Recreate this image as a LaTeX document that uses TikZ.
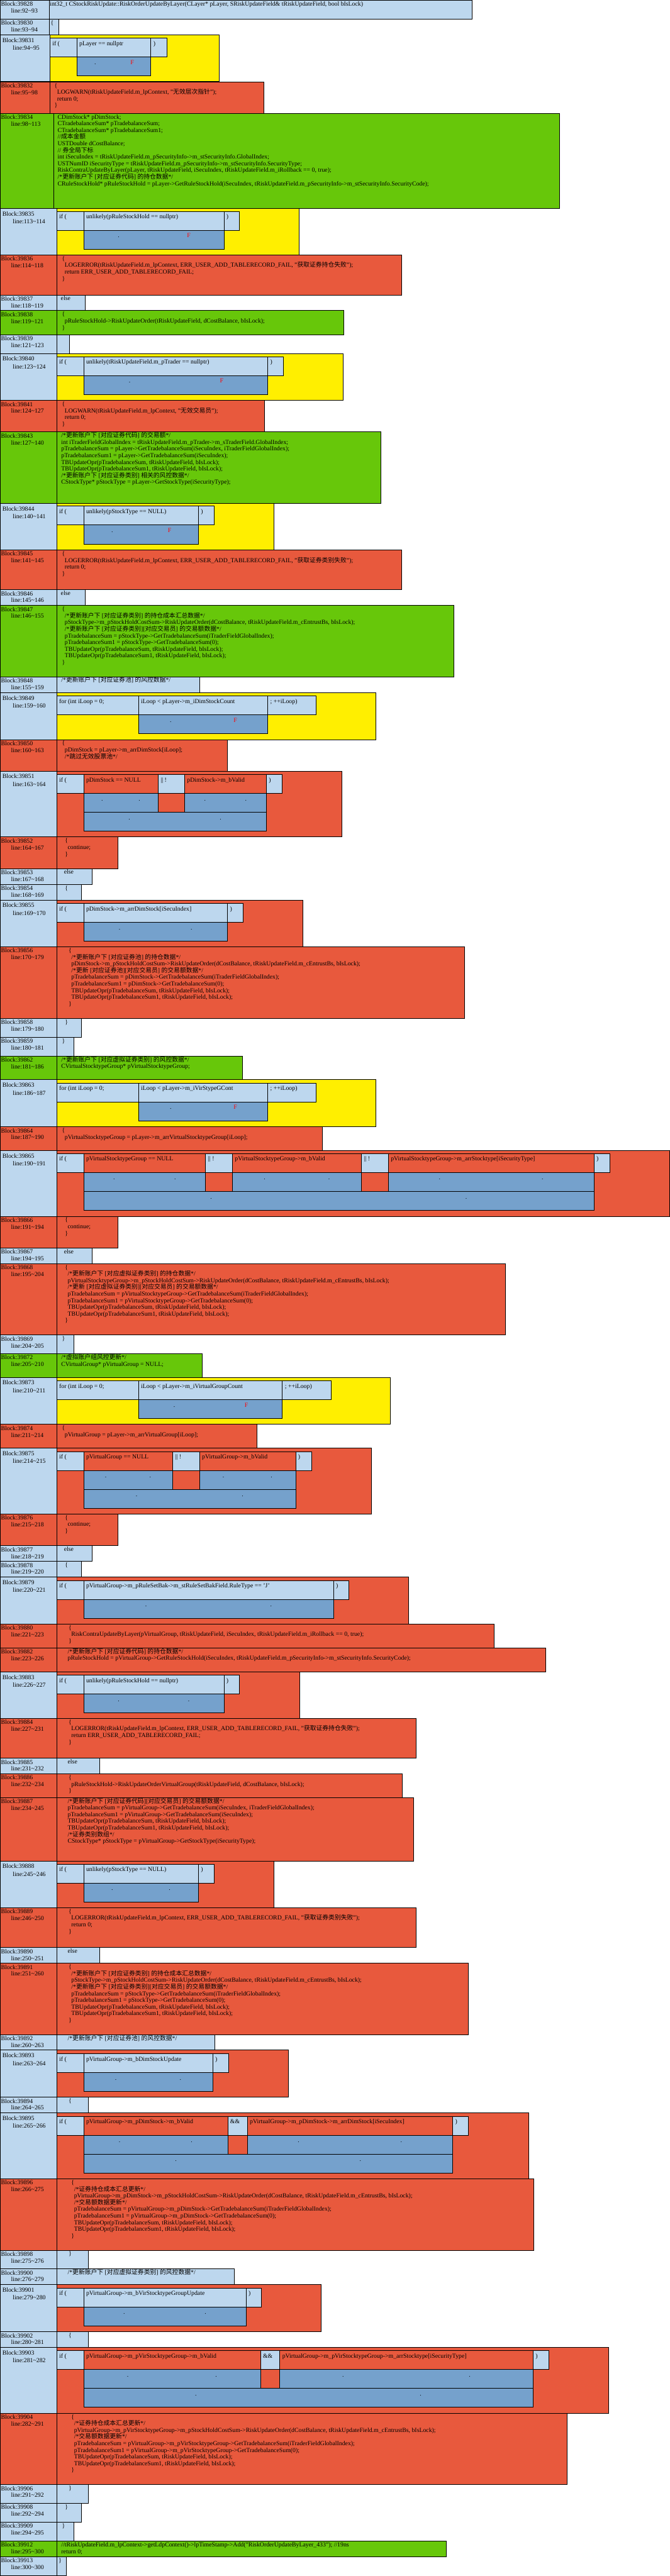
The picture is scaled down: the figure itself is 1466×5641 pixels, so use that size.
\documentclass[tikz,border=0pt]{standalone}
\usepackage{fontspec}
\setmainfont{Liberation Serif}
\newfontfamily\zhfont{Noto Sans CJK SC}
\newcommand{\zh}[1]{{\zhfont #1}}
\definecolor{blkblue}{HTML}{BDD7EE}
\definecolor{blkyellow}{HTML}{FFEF00}
\definecolor{blkred}{HTML}{E8593D}
\definecolor{blkgreen}{HTML}{67C70A}
\definecolor{blkdark}{HTML}{75A1CC}
\tikzset{
  boxline/.style={draw=black, line width=0.8pt},
  codetxt/.style={anchor=base west, inner sep=0pt, font=\fontsize{13.5}{14.6}\selectfont},
  marktxt/.style={anchor=base, inner sep=0pt, font=\fontsize{13.5}{14.6}\selectfont},
}
\begin{document}
\begin{tikzpicture}[x=1pt, y=-1pt]
        % 1. VARIABLES / MACROS
        \def\codeln#1{\hbox{#1}}
        \def\codein#1{\hbox{\hskip6pt #1}}
        \def\Fmark{\textcolor{red}{F}}
        % block label column: id, top, bottom, width, colour, lines
        \def\blklabel#1#2#3#4#5#6{%
          \filldraw[fill=#5, boxline] (0,#2) rectangle (#4,#3);
          \node[codetxt] (L#1a) at (2,#2+13) {Block:#1};
          \node[codetxt] (L#1b) at (24,#2+28) {line:#6};}
        % label column of an if / for block: id, top, bottom, width, lines
        \def\blkiflabel#1#2#3#4#5{%
          \filldraw[fill=blkblue, boxline] (0,#2) rectangle (#4,#3);
          \node[codetxt] (L#1a) at (5,#2+16.5) {Block:#1};
          \node[codetxt] (L#1b) at (28,#2+33.5) {line:#5};}
        % code body: id, top, bottom, left, right, colour, text x, lines
        \def\blkbody#1#2#3#4#5#6#7#8{%
          \filldraw[fill=#6, boxline] (#4,#2) rectangle (#5,#3);
          \node[codetxt] (C#1) at (#7,#2+12.5) {\vtop{\lineskiplimit=-50pt\relax #8}};}
        \def\blkframe#1#2#3#4#5{\filldraw[fill=#5, boxline] (#3,#1) rectangle (#4,#2);}
        % one cell of a condition row: name, x1, x2, top, colour, text
        \def\blkcell#1#2#3#4#5#6{%
          \filldraw[fill=#5, boxline] (#2,#4) rectangle (#3,#4+41.3);
          \node[codetxt] (#1) at (#2+5.5,#4+16.5) {#6};}
        % dark result box: name, x1, x2, top, second mark
        \def\blkdark#1#2#3#4#5{%
          \filldraw[fill=blkdark, boxline] (#2,#4) rectangle (#3,#4+41.5);
          \node[marktxt] (#1a) at ({#2+0.25*(#3-#2)},#4+16.5) {.};
          \node[marktxt] (#1b) at ({#2+0.75*(#3-#2)},#4+16.5) {#5};}
        % simple if row: id, row top, cond right, close right, condition, mark
        \def\blkif#1#2#3#4#5#6{%
          \blkcell{I#1a}{124}{183}{#2}{blkblue}{if (}%
          \blkcell{I#1b}{183}{#3}{#2}{blkblue}{#5}%
          \blkcell{I#1c}{#3}{#4}{#2}{blkblue}{)}%
          \blkdark{D#1}{183}{#3}{#2+41.3}{#6}}
        % for row: id, row top, x2, x3, x4, init, cond, step
        \def\blkfor#1#2#3#4#5#6#7#8{%
          \blkcell{I#1a}{124}{#3}{#2}{blkblue}{#6}%
          \blkcell{I#1b}{#3}{#4}{#2}{blkblue}{#7}%
          \blkcell{I#1c}{#4}{#5}{#2}{blkblue}{#8}%
          \blkdark{D#1}{#3}{#4}{#2+41.3}{\Fmark}}

        \useasboundingbox (0,0) rectangle (1466,5641);

        % ==========================================
        % 2. FUNCTION HEAD
        % ==========================================
        \blklabel{39828}{0}{41.7}{107.5}{blkblue}{92\textasciitilde93}
        \blkbody{39828}{0}{41.7}{107.5}{1033}{blkblue}{109}{\codeln{int32\_t CStockRiskUpdate::RiskOrderUpdateByLayer(CLayer* pLayer, SRiskUpdateField\& tRiskUpdateField, bool bIsLock)}}
        \blklabel{39830}{41.7}{76}{107.5}{blkblue}{93\textasciitilde94}
        \blkbody{39830}{41.7}{76}{107.5}{129}{blkblue}{111}{\codeln{\{}}

        \blkiflabel{39831}{76}{178}{109}{94\textasciitilde95}
        \blkframe{76}{178}{109}{479}{blkyellow}
        \blkcell{I39831a}{109}{168}{83}{blkblue}{if (}
        \blkcell{I39831b}{168}{330}{83}{blkblue}{pLayer == nullptr}
        \blkcell{I39831c}{330}{365}{83}{blkblue}{)}
        \blkdark{D39831}{168}{330}{124.3}{\Fmark}

        \blklabel{39832}{179}{248}{109}{blkred}{95\textasciitilde98}
        \blkbody{39832}{179}{248}{109}{578}{blkred}{119}{\codeln{\{}\codein{LOGWARN(tRiskUpdateField.m\_lpContext, "\zh{无效层次指针}");}\codein{return 0;}\codeln{\}}}

        \blklabel{39834}{248}{456.7}{117}{blkgreen}{98\textasciitilde113}
        \blkbody{39834}{248}{456.7}{117}{1225}{blkgreen}{126}{%
          \codeln{CDimStock* pDimStock;}
          \codeln{CTradebalanceSum* pTradebalanceSum;}
          \codeln{CTradebalanceSum* pTradebalanceSum1;}
          \codeln{//\zh{成本金额}}
          \codeln{USTDouble dCostBalance;}
          \codeln{// \zh{券全局下标}}
          \codeln{int iSecuIndex = tRiskUpdateField.m\_pSecurityInfo->m\_stSecurityInfo.GlobalIndex;}
          \codeln{USTNumID iSecurityType = tRiskUpdateField.m\_pSecurityInfo->m\_stSecurityInfo.SecurityType;}
          \codeln{RiskContraUpdateByLayer(pLayer, tRiskUpdateField, iSecuIndex, tRiskUpdateField.m\_iRollback == 0, true);}
          \codeln{/*\zh{更新账户下} [\zh{对应证券代码}] \zh{的持仓数据}*/}
          \codeln{CRuleStockHold* pRuleStockHold = pLayer->GetRuleStockHold(iSecuIndex, tRiskUpdateField.m\_pSecurityInfo->m\_stSecurityInfo.SecurityCode);}}

        % ==========================================
        % 3. STOCK HOLD AND TRADER
        % ==========================================
        \blkiflabel{39835}{456.7}{558}{124}{113\textasciitilde114}
        \blkframe{456.7}{558}{124}{654}{blkyellow}
        \blkif{39835}{462.7}{490}{524}{unlikely(pRuleStockHold == nullptr)}{\Fmark}

        \blklabel{39836}{558}{645.7}{124}{blkred}{114\textasciitilde118}
        \blkbody{39836}{558}{645.7}{124}{879}{blkred}{135.5}{\codeln{\{}\codein{LOGERROR(tRiskUpdateField.m\_lpContext, ERR\_USER\_ADD\_TABLERECORD\_FAIL, "\zh{获取证券持仓失败}");}\codein{return ERR\_USER\_ADD\_TABLERECORD\_FAIL;}\codeln{\}}}
        \blklabel{39837}{645.7}{680}{124}{blkblue}{118\textasciitilde119}
        \blkbody{39837}{645.7}{680}{124}{186}{blkblue}{133}{\codeln{else}}
        \blklabel{39838}{680}{732.7}{124}{blkgreen}{119\textasciitilde121}
        \blkbody{39838}{680}{732.7}{124}{753}{blkgreen}{135.5}{\codeln{\{}\codein{pRuleStockHold->RiskUpdateOrder(tRiskUpdateField, dCostBalance, bIsLock);}\codeln{\}}}
        \blklabel{39839}{732.7}{773.7}{124}{blkblue}{121\textasciitilde123}
        \blkbody{39839}{732.7}{773.7}{124}{151.5}{blkblue}{133}{}

        \blkiflabel{39840}{773.7}{876.7}{124}{123\textasciitilde124}
        \blkframe{773.7}{876.7}{124}{751}{blkyellow}
        \blkif{39840}{780.7}{586}{620}{unlikely(tRiskUpdateField.m\_pTrader == nullptr)}{\Fmark}

        \blklabel{39841}{876.7}{945.7}{124}{blkred}{124\textasciitilde127}
        \blkbody{39841}{876.7}{945.7}{124}{579}{blkred}{135.5}{\codeln{\{}\codein{LOGWARN(tRiskUpdateField.m\_lpContext, "\zh{无效交易员}");}\codein{return 0;}\codeln{\}}}

        \blklabel{39843}{945.7}{1102.3}{124}{blkgreen}{127\textasciitilde140}
        \blkbody{39843}{945.7}{1102.3}{124}{834}{blkgreen}{134}{%
          \codeln{/*\zh{更新账户下} [\zh{对应证券代码}] \zh{的交易额}*/}
          \codeln{int iTraderFieldGlobalIndex = tRiskUpdateField.m\_pTrader->m\_sTraderField.GlobalIndex;}
          \codeln{pTradebalanceSum = pLayer->GetTradebalanceSum(iSecuIndex, iTraderFieldGlobalIndex);}
          \codeln{pTradebalanceSum1 = pLayer->GetTradebalanceSum(iSecuIndex);}
          \codeln{TBUpdateOpr(pTradebalanceSum, tRiskUpdateField, bIsLock);}
          \codeln{TBUpdateOpr(pTradebalanceSum1, tRiskUpdateField, bIsLock);}
          \codeln{/*\zh{更新账户下} [\zh{对应证券类别}] \zh{相关的风控数据}*/}
          \codeln{CStockType* pStockType = pLayer->GetStockType(iSecurityType);}}

        \blkiflabel{39844}{1102.3}{1204.3}{124}{140\textasciitilde141}
        \blkframe{1102.3}{1204.3}{124}{599}{blkyellow}
        \blkif{39844}{1108.3}{434}{468}{unlikely(pStockType == NULL)}{\Fmark}

        \blklabel{39845}{1204.3}{1291.3}{124}{blkred}{141\textasciitilde145}
        \blkbody{39845}{1204.3}{1291.3}{124}{879}{blkred}{135.5}{\codeln{\{}\codein{LOGERROR(tRiskUpdateField.m\_lpContext, ERR\_USER\_ADD\_TABLERECORD\_FAIL, "\zh{获取证券类别失败}");}\codein{return 0;}\codeln{\}}}
        \blklabel{39846}{1291.3}{1325.7}{124}{blkblue}{145\textasciitilde146}
        \blkbody{39846}{1291.3}{1325.7}{124}{186}{blkblue}{133}{\codeln{else}}
        \blklabel{39847}{1325.7}{1481.7}{124}{blkgreen}{146\textasciitilde155}
        \blkbody{39847}{1325.7}{1481.7}{124}{994}{blkgreen}{135.5}{%
          \codeln{\{}
          \codein{/*\zh{更新账户下} [\zh{对应证券类别}] \zh{的持仓成本汇总数据}*/}
          \codein{pStockType->m\_pStockHoldCostSum->RiskUpdateOrder(dCostBalance, tRiskUpdateField.m\_cEntrustBs, bIsLock);}
          \codein{/*\zh{更新账户下} [\zh{对应证券类别}][\zh{对应交易员}] \zh{的交易额数据}*/}
          \codein{pTradebalanceSum = pStockType->GetTradebalanceSum(iTraderFieldGlobalIndex);}
          \codein{pTradebalanceSum1 = pStockType->GetTradebalanceSum(0);}
          \codein{TBUpdateOpr(pTradebalanceSum, tRiskUpdateField, bIsLock);}
          \codein{TBUpdateOpr(pTradebalanceSum1, tRiskUpdateField, bIsLock);}
          \codeln{\}}}

        % ==========================================
        % 4. STOCK POOL LOOP
        % ==========================================
        \blklabel{39848}{1481.7}{1516.7}{124}{blkblue}{155\textasciitilde159}
        \blkbody{39848}{1481.7}{1516.7}{124}{437.5}{blkblue}{134}{\codeln{/*\zh{更新账户下} [\zh{对应证券池}] \zh{的风控数据}*/}}

        \blkiflabel{39849}{1516.7}{1619.3}{124}{159\textasciitilde160}
        \blkframe{1516.7}{1619.3}{124}{823}{blkyellow}
        \blkfor{39849}{1523.3}{303}{586}{692}{for (int iLoop = 0;}{iLoop < pLayer->m\_iDimStockCount}{; ++iLoop)}

        \blklabel{39850}{1619.3}{1688.3}{124}{blkred}{160\textasciitilde163}
        \blkbody{39850}{1619.3}{1688.3}{124}{498}{blkred}{135.5}{\codeln{\{}\codein{pDimStock = pLayer->m\_arrDimStock[iLoop];}\codein{/*\zh{跳过无效股票池}*/}}

        \blkiflabel{39851}{1688.3}{1832.7}{124}{163\textasciitilde164}
        \blkframe{1688.3}{1832.7}{124}{748}{blkred}
        \blkcell{I39851a}{124}{183}{1695.7}{blkblue}{if (}
        \blkcell{I39851b}{183}{346}{1695.7}{blkred}{pDimStock == NULL}
        \blkcell{I39851c}{346}{404}{1695.7}{blkblue}{|| !}
        \blkcell{I39851d}{404}{583}{1695.7}{blkred}{pDimStock->m\_bValid}
        \blkcell{I39851e}{583}{617}{1695.7}{blkblue}{)}
        \blkdark{D39851a}{183}{346}{1737}{.}
        \blkdark{D39851b}{404}{583}{1737}{.}
        \blkdark{D39851c}{183}{583}{1778.5}{.}

        \blklabel{39852}{1832.7}{1901.7}{124}{blkred}{164\textasciitilde167}
        \blkbody{39852}{1832.7}{1901.7}{124}{258}{blkred}{142}{\codeln{\{}\codein{continue;}\codeln{\}}}
        \blklabel{39853}{1901.7}{1936.7}{124}{blkblue}{167\textasciitilde168}
        \blkbody{39853}{1901.7}{1936.7}{124}{202}{blkblue}{140}{\codeln{else}}
        \blklabel{39854}{1936.7}{1970.7}{124}{blkblue}{168\textasciitilde169}
        \blkbody{39854}{1936.7}{1970.7}{124}{177.6}{blkblue}{142}{\codeln{\{}}

        \blkiflabel{39855}{1970.7}{2073.3}{124}{169\textasciitilde170}
        \blkframe{1970.7}{2073.3}{124}{663}{blkred}
        \blkif{39855}{1977.7}{498}{532}{pDimStock->m\_arrDimStock[iSecuIndex]}{.}

        \blklabel{39856}{2073.3}{2230}{124}{blkred}{170\textasciitilde179}
        \blkbody{39856}{2073.3}{2230}{124}{1017}{blkred}{150}{%
          \codeln{\{}
          \codein{/*\zh{更新账户下} [\zh{对应证券池}] \zh{的持仓数据}*/}
          \codein{pDimStock->m\_pStockHoldCostSum->RiskUpdateOrder(dCostBalance, tRiskUpdateField.m\_cEntrustBs, bIsLock);}
          \codein{/*\zh{更新} [\zh{对应证券池}][\zh{对应交易员}] \zh{的交易额数据}*/}
          \codein{pTradebalanceSum = pDimStock->GetTradebalanceSum(iTraderFieldGlobalIndex);}
          \codein{pTradebalanceSum1 = pDimStock->GetTradebalanceSum(0);}
          \codein{TBUpdateOpr(pTradebalanceSum, tRiskUpdateField, bIsLock);}
          \codein{TBUpdateOpr(pTradebalanceSum1, tRiskUpdateField, bIsLock);}
          \codeln{\}}}
        \blklabel{39858}{2230}{2271}{124}{blkblue}{179\textasciitilde180}
        \blkbody{39858}{2230}{2271}{124}{177.6}{blkblue}{142}{\codeln{\}}}
        \blklabel{39859}{2271}{2312.7}{124}{blkblue}{180\textasciitilde181}
        \blkbody{39859}{2271}{2312.7}{124}{161}{blkblue}{135.5}{\codeln{\}}}

        % ==========================================
        % 5. VIRTUAL STOCK TYPE LOOP
        % ==========================================
        \blklabel{39862}{2312.7}{2364.3}{124}{blkgreen}{181\textasciitilde186}
        \blkbody{39862}{2312.7}{2364.3}{124}{530}{blkgreen}{134}{\codeln{/*\zh{更新账户下} [\zh{对应虚拟证券类别}] \zh{的风控数据}*/}\codeln{CVirtualStocktypeGroup* pVirtualStocktypeGroup;}}

        \blkiflabel{39863}{2364.3}{2467.3}{124}{186\textasciitilde187}
        \blkframe{2364.3}{2467.3}{124}{823}{blkyellow}
        \blkfor{39863}{2371.3}{303}{586}{692}{for (int iLoop = 0;}{iLoop < pLayer->m\_iVirStypeGCont}{; ++iLoop)}

        \blklabel{39864}{2467.3}{2519}{124}{blkred}{187\textasciitilde190}
        \blkbody{39864}{2467.3}{2519}{124}{706}{blkred}{135.5}{\codeln{\{}\codein{pVirtualStocktypeGroup = pLayer->m\_arrVirtualStocktypeGroup[iLoop];}}

        \blkiflabel{39865}{2519}{2663.3}{124}{190\textasciitilde191}
        \blkframe{2519}{2663.3}{124}{1466}{blkred}
        \blkcell{I39865a}{124}{183}{2525.7}{blkblue}{if (}
        \blkcell{I39865b}{183}{450}{2525.7}{blkred}{pVirtualStocktypeGroup == NULL}
        \blkcell{I39865c}{450}{508.6}{2525.7}{blkblue}{|| !}
        \blkcell{I39865d}{508.6}{791}{2525.7}{blkred}{pVirtualStocktypeGroup->m\_bValid}
        \blkcell{I39865e}{791}{850}{2525.7}{blkblue}{|| !}
        \blkcell{I39865f}{850}{1300}{2525.7}{blkred}{pVirtualStocktypeGroup->m\_arrStocktype[iSecurityType]}
        \blkcell{I39865g}{1300}{1335}{2525.7}{blkblue}{)}
        \blkdark{D39865a}{183}{450}{2567}{.}
        \blkdark{D39865b}{508.6}{791}{2567}{.}
        \blkdark{D39865c}{850}{1300}{2567}{.}
        \blkdark{D39865d}{183}{1300}{2608.5}{.}

        \blklabel{39866}{2663.3}{2732.7}{124}{blkred}{191\textasciitilde194}
        \blkbody{39866}{2663.3}{2732.7}{124}{258}{blkred}{142}{\codeln{\{}\codein{continue;}\codeln{\}}}
        \blklabel{39867}{2732.7}{2766.7}{124}{blkblue}{194\textasciitilde195}
        \blkbody{39867}{2732.7}{2766.7}{124}{202}{blkblue}{140}{\codeln{else}}
        \blklabel{39868}{2766.7}{2923.3}{124}{blkred}{195\textasciitilde204}
        \blkbody{39868}{2766.7}{2923.3}{124}{1106}{blkred}{142}{%
          \codeln{\{}
          \codein{/*\zh{更新账户下} [\zh{对应虚拟证券类别}] \zh{的持仓数据}*/}
          \codein{pVirtualStocktypeGroup->m\_pStockHoldCostSum->RiskUpdateOrder(dCostBalance, tRiskUpdateField.m\_cEntrustBs, bIsLock);}
          \codein{/*\zh{更新} [\zh{对应虚拟证券类别}][\zh{对应交易员}] \zh{的交易额数据}*/}
          \codein{pTradebalanceSum = pVirtualStocktypeGroup->GetTradebalanceSum(iTraderFieldGlobalIndex);}
          \codein{pTradebalanceSum1 = pVirtualStocktypeGroup->GetTradebalanceSum(0);}
          \codein{TBUpdateOpr(pTradebalanceSum, tRiskUpdateField, bIsLock);}
          \codein{TBUpdateOpr(pTradebalanceSum1, tRiskUpdateField, bIsLock);}
          \codeln{\}}}
        \blklabel{39869}{2923.3}{2964.3}{124}{blkblue}{204\textasciitilde205}
        \blkbody{39869}{2923.3}{2964.3}{124}{161}{blkblue}{135.5}{\codeln{\}}}

        % ==========================================
        % 6. VIRTUAL GROUP LOOP
        % ==========================================
        \blklabel{39872}{2964.3}{3016}{124}{blkgreen}{205\textasciitilde210}
        \blkbody{39872}{2964.3}{3016}{124}{442}{blkgreen}{134}{\codeln{/*\zh{虚拟账户组风控更新}*/}\codeln{CVirtualGroup* pVirtualGroup = NULL;}}

        \blkiflabel{39873}{3016}{3119}{124}{210\textasciitilde211}
        \blkframe{3016}{3119}{124}{854.5}{blkyellow}
        \blkfor{39873}{3023.3}{303}{618}{724.5}{for (int iLoop = 0;}{iLoop < pLayer->m\_iVirtualGroupCount}{; ++iLoop)}

        \blklabel{39874}{3119}{3171}{124}{blkred}{211\textasciitilde214}
        \blkbody{39874}{3119}{3171}{124}{562}{blkred}{135.5}{\codeln{\{}\codein{pVirtualGroup = pLayer->m\_arrVirtualGroup[iLoop];}}

        \blkiflabel{39875}{3171}{3315}{124}{214\textasciitilde215}
        \blkframe{3171}{3315}{124}{812.5}{blkred}
        \blkcell{I39875a}{124}{183}{3178.3}{blkblue}{if (}
        \blkcell{I39875b}{183}{377.7}{3178.3}{blkred}{pVirtualGroup == NULL}
        \blkcell{I39875c}{377.7}{436.6}{3178.3}{blkblue}{|| !}
        \blkcell{I39875d}{436.6}{647}{3178.3}{blkred}{pVirtualGroup->m\_bValid}
        \blkcell{I39875e}{647}{681.6}{3178.3}{blkblue}{)}
        \blkdark{D39875a}{183}{377.7}{3219.6}{.}
        \blkdark{D39875b}{436.6}{647}{3219.6}{.}
        \blkdark{D39875c}{183}{647}{3261}{.}

        \blklabel{39876}{3315}{3384.7}{124}{blkred}{215\textasciitilde218}
        \blkbody{39876}{3315}{3384.7}{124}{258}{blkred}{142}{\codeln{\{}\codein{continue;}\codeln{\}}}
        \blklabel{39877}{3384.7}{3419}{124}{blkblue}{218\textasciitilde219}
        \blkbody{39877}{3384.7}{3419}{124}{202}{blkblue}{140}{\codeln{else}}
        \blklabel{39878}{3419}{3453.3}{124}{blkblue}{219\textasciitilde220}
        \blkbody{39878}{3419}{3453.3}{124}{177.6}{blkblue}{142}{\codeln{\{}}

        \blkiflabel{39879}{3453.3}{3556}{124}{220\textasciitilde221}
        \blkframe{3453.3}{3556}{124}{894.7}{blkred}
        \blkif{39879}{3460.7}{730}{763.8}{pVirtualGroup->m\_pRuleSetBak->m\_stRuleSetBakField.RuleType == 'J'}{.}

        \blklabel{39880}{3556}{3608.3}{124}{blkred}{221\textasciitilde223}
        \blkbody{39880}{3556}{3608.3}{124}{1081.7}{blkred}{150}{\codeln{\{}\codein{RiskContraUpdateByLayer(pVirtualGroup, tRiskUpdateField, iSecuIndex, tRiskUpdateField.m\_iRollback == 0, true);}\codeln{\}}}
        \blklabel{39882}{3608.3}{3660.7}{124}{blkred}{223\textasciitilde226}
        \blkbody{39882}{3608.3}{3660.7}{124}{1194}{blkred}{148}{\codeln{/*\zh{更新账户下} [\zh{对应证券代码}] \zh{的持仓数据}*/}\codeln{pRuleStockHold = pVirtualGroup->GetRuleStockHold(iSecuIndex, tRiskUpdateField.m\_pSecurityInfo->m\_stSecurityInfo.SecurityCode);}}

        \blkiflabel{39883}{3660.7}{3762.7}{124}{226\textasciitilde227}
        \blkframe{3660.7}{3762.7}{124}{655.4}{blkred}
        \blkif{39883}{3667.7}{490}{524}{unlikely(pRuleStockHold == nullptr)}{.}

        \blklabel{39884}{3762.7}{3850}{124}{blkred}{227\textasciitilde231}
        \blkbody{39884}{3762.7}{3850}{124}{910.6}{blkred}{150}{\codeln{\{}\codein{LOGERROR(tRiskUpdateField.m\_lpContext, ERR\_USER\_ADD\_TABLERECORD\_FAIL, "\zh{获取证券持仓失败}");}\codein{return ERR\_USER\_ADD\_TABLERECORD\_FAIL;}\codeln{\}}}
        \blklabel{39885}{3850}{3884.3}{124}{blkblue}{231\textasciitilde232}
        \blkbody{39885}{3850}{3884.3}{124}{217.8}{blkblue}{148}{\codeln{else}}
        \blklabel{39886}{3884.3}{3936}{124}{blkred}{232\textasciitilde234}
        \blkbody{39886}{3884.3}{3936}{124}{880.7}{blkred}{150}{\codeln{\{}\codein{pRuleStockHold->RiskUpdateOrderVirtualGroup(tRiskUpdateField, dCostBalance, bIsLock);}\codeln{\}}}
        \blklabel{39887}{3936}{4075}{124}{blkred}{234\textasciitilde245}
        \blkbody{39887}{3936}{4075}{124}{905}{blkred}{148}{%
          \codeln{/*\zh{更新账户下} [\zh{对应证券代码}][\zh{对应交易员}] \zh{的交易额数据}*/}
          \codeln{pTradebalanceSum = pVirtualGroup->GetTradebalanceSum(iSecuIndex, iTraderFieldGlobalIndex);}
          \codeln{pTradebalanceSum1 = pVirtualGroup->GetTradebalanceSum(iSecuIndex);}
          \codeln{TBUpdateOpr(pTradebalanceSum, tRiskUpdateField, bIsLock);}
          \codeln{TBUpdateOpr(pTradebalanceSum1, tRiskUpdateField, bIsLock);}
          \codeln{/*\zh{证券类别数组}*/}
          \codeln{CStockType* pStockType = pVirtualGroup->GetStockType(iSecurityType);}}

        \blkiflabel{39888}{4075}{4177.3}{124}{245\textasciitilde246}
        \blkframe{4075}{4177.3}{124}{599}{blkred}
        \blkif{39888}{4081.7}{434}{468}{unlikely(pStockType == NULL)}{.}

        \blklabel{39889}{4177.3}{4264.7}{124}{blkred}{246\textasciitilde250}
        \blkbody{39889}{4177.3}{4264.7}{124}{910.6}{blkred}{150}{\codeln{\{}\codein{LOGERROR(tRiskUpdateField.m\_lpContext, ERR\_USER\_ADD\_TABLERECORD\_FAIL, "\zh{获取证券类别失败}");}\codein{return 0;}\codeln{\}}}
        \blklabel{39890}{4264.7}{4299}{124}{blkblue}{250\textasciitilde251}
        \blkbody{39890}{4264.7}{4299}{124}{217.8}{blkblue}{148}{\codeln{else}}
        \blklabel{39891}{4299}{4455.3}{124}{blkred}{251\textasciitilde260}
        \blkbody{39891}{4299}{4455.3}{124}{1025.6}{blkred}{150}{%
          \codeln{\{}
          \codein{/*\zh{更新账户下} [\zh{对应证券类别}] \zh{的持仓成本汇总数据}*/}
          \codein{pStockType->m\_pStockHoldCostSum->RiskUpdateOrder(dCostBalance, tRiskUpdateField.m\_cEntrustBs, bIsLock);}
          \codein{/*\zh{更新账户下} [\zh{对应证券类别}][\zh{对应交易员}] \zh{的交易额数据}*/}
          \codein{pTradebalanceSum = pStockType->GetTradebalanceSum(iTraderFieldGlobalIndex);}
          \codein{pTradebalanceSum1 = pStockType->GetTradebalanceSum(0);}
          \codein{TBUpdateOpr(pTradebalanceSum, tRiskUpdateField, bIsLock);}
          \codein{TBUpdateOpr(pTradebalanceSum1, tRiskUpdateField, bIsLock);}
          \codeln{\}}}

        % ==========================================
        % 7. VIRTUAL GROUP STOCK POOL / STOCK TYPE
        % ==========================================
        \blklabel{39892}{4455.3}{4489.3}{124}{blkblue}{260\textasciitilde263}
        \blkbody{39892}{4455.3}{4489.3}{124}{470}{blkblue}{148}{\codeln{/*\zh{更新账户下} [\zh{对应证券池}] \zh{的风控数据}*/}}

        \blkiflabel{39893}{4489.3}{4592.3}{124}{263\textasciitilde264}
        \blkframe{4489.3}{4592.3}{124}{631}{blkred}
        \blkif{39893}{4496.7}{465.6}{500}{pVirtualGroup->m\_bDimStockUpdate}{.}

        \blklabel{39894}{4592.3}{4626.7}{124}{blkblue}{264\textasciitilde265}
        \blkbody{39894}{4592.3}{4626.7}{124}{193.5}{blkblue}{150}{\codeln{\{}}

        \blkiflabel{39895}{4626.7}{4771}{124}{265\textasciitilde266}
        \blkframe{4626.7}{4771}{124}{1157.4}{blkred}
        \blkcell{I39895a}{124}{183}{4634}{blkblue}{if (}
        \blkcell{I39895b}{183}{498.3}{4634}{blkred}{pVirtualGroup->m\_pDimStock->m\_bValid}
        \blkcell{I39895c}{498.3}{541.3}{4634}{blkblue}{\&\&}
        \blkcell{I39895d}{541.3}{991}{4634}{blkred}{pVirtualGroup->m\_pDimStock->m\_arrDimStock[iSecuIndex]}
        \blkcell{I39895e}{991}{1025.6}{4634}{blkblue}{)}
        \blkdark{D39895a}{183}{498.3}{4675.3}{.}
        \blkdark{D39895b}{541.3}{991}{4675.3}{.}
        \blkdark{D39895c}{183}{991}{4716.8}{.}

        \blklabel{39896}{4771}{4927.3}{124}{blkred}{266\textasciitilde275}
        \blkbody{39896}{4771}{4927.3}{124}{1168.7}{blkred}{156}{%
          \codeln{\{}
          \codein{/*\zh{证券持仓成本汇总更新}*/}
          \codein{pVirtualGroup->m\_pDimStock->m\_pStockHoldCostSum->RiskUpdateOrder(dCostBalance, tRiskUpdateField.m\_cEntrustBs, bIsLock);}
          \codein{/*\zh{交易额数据更新}*/}
          \codein{pTradebalanceSum = pVirtualGroup->m\_pDimStock->GetTradebalanceSum(iTraderFieldGlobalIndex);}
          \codein{pTradebalanceSum1 = pVirtualGroup->m\_pDimStock->GetTradebalanceSum(0);}
          \codein{TBUpdateOpr(pTradebalanceSum, tRiskUpdateField, bIsLock);}
          \codein{TBUpdateOpr(pTradebalanceSum1, tRiskUpdateField, bIsLock);}
          \codeln{\}}}
        \blklabel{39898}{4927.3}{4968.3}{124}{blkblue}{275\textasciitilde276}
        \blkbody{39898}{4927.3}{4968.3}{124}{193.5}{blkblue}{150}{\codeln{\}}}
        \blklabel{39900}{4968.3}{5002.7}{124}{blkblue}{276\textasciitilde279}
        \blkbody{39900}{4968.3}{5002.7}{124}{513}{blkblue}{148}{\codeln{/*\zh{更新账户下} [\zh{对应虚拟证券类别}] \zh{的风控数据}*/}}

        \blkiflabel{39901}{5002.7}{5106}{124}{279\textasciitilde280}
        \blkframe{5002.7}{5106}{124}{703}{blkred}
        \blkif{39901}{5010}{538.5}{572}{pVirtualGroup->m\_bVirStocktypeGroupUpdate}{.}

        \blklabel{39902}{5106}{5140}{124}{blkblue}{280\textasciitilde281}
        \blkbody{39902}{5106}{5140}{124}{193.5}{blkblue}{150}{\codeln{\{}}

        \blkiflabel{39903}{5140}{5284.3}{124}{281\textasciitilde282}
        \blkframe{5140}{5284.3}{124}{1332}{blkred}
        \blkcell{I39903a}{124}{183}{5147.3}{blkblue}{if (}
        \blkcell{I39903b}{183}{570}{5147.3}{blkred}{pVirtualGroup->m\_pVirStocktypeGroup->m\_bValid}
        \blkcell{I39903c}{570}{612.4}{5147.3}{blkblue}{\&\&}
        \blkcell{I39903d}{612.4}{1166.8}{5147.3}{blkred}{pVirtualGroup->m\_pVirStocktypeGroup->m\_arrStocktype[iSecurityType]}
        \blkcell{I39903e}{1166.8}{1201.4}{5147.3}{blkblue}{)}
        \blkdark{D39903a}{183}{570}{5188.6}{.}
        \blkdark{D39903b}{612.4}{1166.8}{5188.6}{.}
        \blkdark{D39903c}{183}{1166.8}{5229.8}{.}

        \blklabel{39904}{5284.3}{5440.7}{124}{blkred}{282\textasciitilde291}
        \blkbody{39904}{5284.3}{5440.7}{124}{1240.7}{blkred}{156}{%
          \codeln{\{}
          \codein{/*\zh{证券持仓成本汇总更新}*/}
          \codein{pVirtualGroup->m\_pVirStocktypeGroup->m\_pStockHoldCostSum->RiskUpdateOrder(dCostBalance, tRiskUpdateField.m\_cEntrustBs, bIsLock);}
          \codein{/*\zh{交易额数据更新}*/}
          \codein{pTradebalanceSum = pVirtualGroup->m\_pVirStocktypeGroup->GetTradebalanceSum(iTraderFieldGlobalIndex);}
          \codein{pTradebalanceSum1 = pVirtualGroup->m\_pVirStocktypeGroup->GetTradebalanceSum(0);}
          \codein{TBUpdateOpr(pTradebalanceSum, tRiskUpdateField, bIsLock);}
          \codein{TBUpdateOpr(pTradebalanceSum1, tRiskUpdateField, bIsLock);}
          \codeln{\}}}

        % ==========================================
        % 8. CLOSING BLOCKS
        % ==========================================
        \blklabel{39906}{5440.7}{5481.7}{124}{blkblue}{291\textasciitilde292}
        \blkbody{39906}{5440.7}{5481.7}{124}{193.5}{blkblue}{150}{\codeln{\}}}
        \blklabel{39908}{5481.7}{5522.7}{124}{blkblue}{292\textasciitilde294}
        \blkbody{39908}{5481.7}{5522.7}{124}{177.6}{blkblue}{142}{\codeln{\}}}
        \blklabel{39909}{5522.7}{5564.3}{124}{blkblue}{294\textasciitilde295}
        \blkbody{39909}{5522.7}{5564.3}{124}{161}{blkblue}{135.5}{\codeln{\}}}
        \blklabel{39912}{5564.3}{5599}{124}{blkgreen}{295\textasciitilde300}
        \blkbody{39912}{5564.3}{5599}{124}{977}{blkgreen}{134}{\codeln{//tRiskUpdateField.m\_lpContext->getLdpContext()->lpTimeStamp->Add("RiskOrderUpdateByLayer\_433"); //19ns}\codeln{return 0;}}
        \blklabel{39913}{5599}{5640}{124}{blkblue}{300\textasciitilde300}
        \blkbody{39913}{5599}{5640}{124}{145}{blkblue}{128}{\codeln{\}}}

    \end{tikzpicture}
\end{document}
